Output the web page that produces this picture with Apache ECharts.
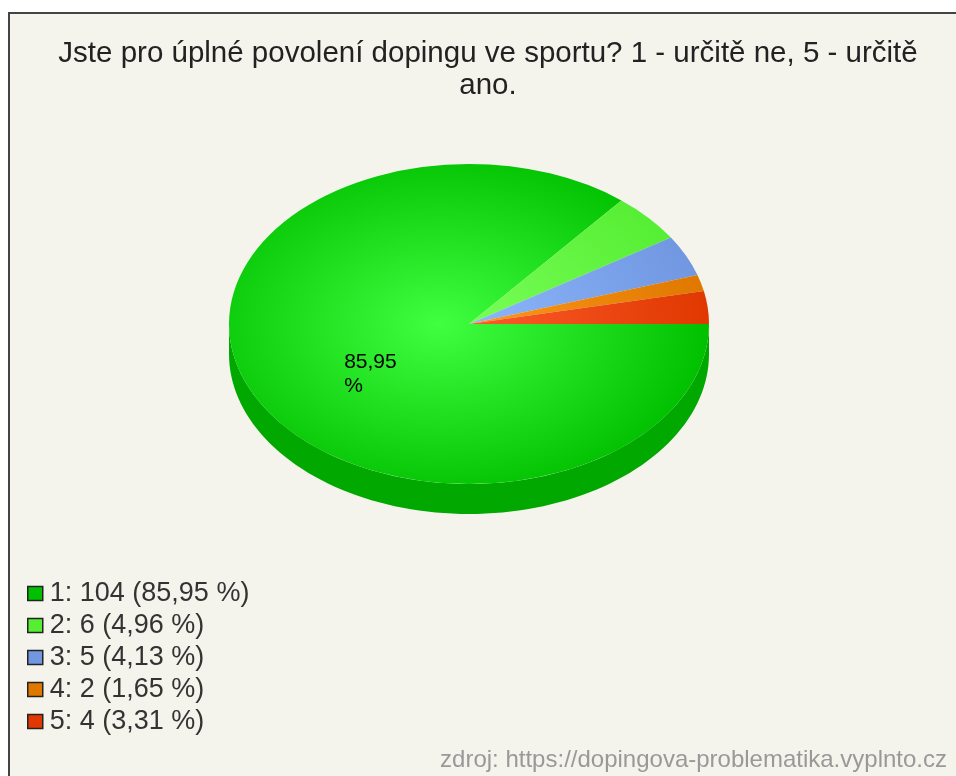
<!DOCTYPE html>
<html>
<head>
<meta charset="utf-8">
<title>Doping</title>
<script src="https://cdn.jsdelivr.net/npm/echarts@6/dist/echarts.min.js"></script>
<style>
  html, body { margin: 0; padding: 0; background: #fff; overflow: hidden; }
  #main { width: 956px; height: 776px; filter: blur(0.5px); }
</style>
</head>
<body>
<div id="main"></div>
<script>
// data
const categories = ['1', '2', '3', '4', '5']
const counts = [104, 6, 5, 2, 4]
const percents = ['85,95', '4,96', '4,13', '1,65', '3,31']
const sliceLabels = ['85,95\n%', '', '', '', '']

const titleText = 'Jste pro úplné povolení dopingu ve sportu? 1 - určitě ne, 5 - určitě\nano.'
const sourceText = 'zdroj: https://dopingova-problematika.vyplnto.cz'

// colours per slice
const rimColors = ['#00c000', '#55ee33', '#7097e0', '#e07800', '#e03800']
const centerColors = ['#40ff40', '#7cff5a', '#8fb9ff', '#ff9c1c', '#ff6030']
const sideColors = ['#00a800', '#44cc22', '#5577bb', '#bb6600', '#bb3000']

const FONT = '"Liberation Sans", Arial, sans-serif'
const CX = 469
const CY = 324
const RX = 240
const RY = 160
const DEPTH = 30

const total = counts.reduce((a, b) => a + b, 0)

// slices run counter-clockwise from 3 o'clock, last category first
const angles = []
let acc = 0
for (let i = counts.length - 1; i >= 0; i--) {
  const start = acc
  acc += (counts[i] / total) * Math.PI * 2
  angles[i] = { start, end: acc }
}

// wall of the pie, only the part that faces the viewer
const sidePoints = (start, end) => {
  const from = Math.max(start, Math.PI)
  const to = Math.min(end, Math.PI * 2)
  if (to <= from) return null
  const top = []
  const bottom = []
  const steps = 90
  for (let s = 0; s <= steps; s++) {
    const t = from + ((to - from) * s) / steps
    const x = CX + RX * Math.cos(t)
    const y = CY - RY * Math.sin(t)
    top.push([x, y])
    bottom.unshift([x, y + DEPTH])
  }
  return top.concat(bottom)
}

const renderSlice = (i) => () => {
  const { start, end } = angles[i]
  const children = []
  const side = sidePoints(start, end)
  if (side) {
    children.push({
      type: 'polygon',
      shape: { points: side },
      style: { fill: sideColors[i] }
    })
  }
  children.push({
    type: 'sector',
    x: CX,
    y: CY,
    scaleY: RY / RX,
    shape: { cx: 0, cy: 0, r0: 0, r: RX, startAngle: -end, endAngle: -start, clockwise: true },
    style: {
      fill: {
        type: 'radial',
        x: -30,
        y: 0,
        r: RX + 30,
        global: true,
        colorStops: [
          { offset: 0, color: centerColors[i] },
          { offset: 1, color: rimColors[i] }
        ]
      }
    }
  })
  if (sliceLabels[i]) {
    const mid = (start + end) / 2
    children.push({
      type: 'text',
      x: CX + RX * 0.46 * Math.cos(mid) - 25,
      y: CY - RY * 0.46 * Math.sin(mid) + 19,
      style: {
        text: sliceLabels[i],
        fill: '#000',
        font: '21px ' + FONT,
        lineHeight: 24,
        align: 'left',
        verticalAlign: 'middle'
      }
    })
  }
  return { type: 'group', children }
}

const chart = echarts.init(document.getElementById('main'))
chart.setOption({
  animation: false,
  title: {
    text: titleText,
    left: 483,
    top: 33,
    textAlign: 'center',
    textStyle: { fontFamily: FONT, fontSize: 29.5, fontWeight: 'normal', color: '#222', lineHeight: 32 }
  },
  legend: {
    orient: 'vertical',
    left: 22,
    top: 575,
    itemWidth: 15,
    itemHeight: 14,
    itemGap: 5,
    icon: 'rect',
    selectedMode: false,
    itemStyle: { borderColor: '#222', borderWidth: 1.5 },
    textStyle: { fontFamily: FONT, fontSize: 27, color: '#333', padding: [0, 0, 0, 2] }
  },
  graphic: [
    {
      type: 'rect',
      z: -10,
      shape: { x: 9, y: 13, width: 970, height: 790 },
      style: { fill: '#f4f4ec', stroke: '#444', lineWidth: 2 }
    },
    {
      type: 'text',
      right: 9,
      top: 748,
      style: { text: sourceText, fill: '#999', font: '24px ' + FONT }
    }
  ],
  series: categories.map((c, i) => ({
    name: `${c}: ${counts[i]} (${percents[i]} %)`,
    type: 'custom',
    coordinateSystem: 'none',
    itemStyle: { color: rimColors[i] },
    data: [counts[i]],
    renderItem: renderSlice(i)
  }))
})
</script>
</body>
</html>
